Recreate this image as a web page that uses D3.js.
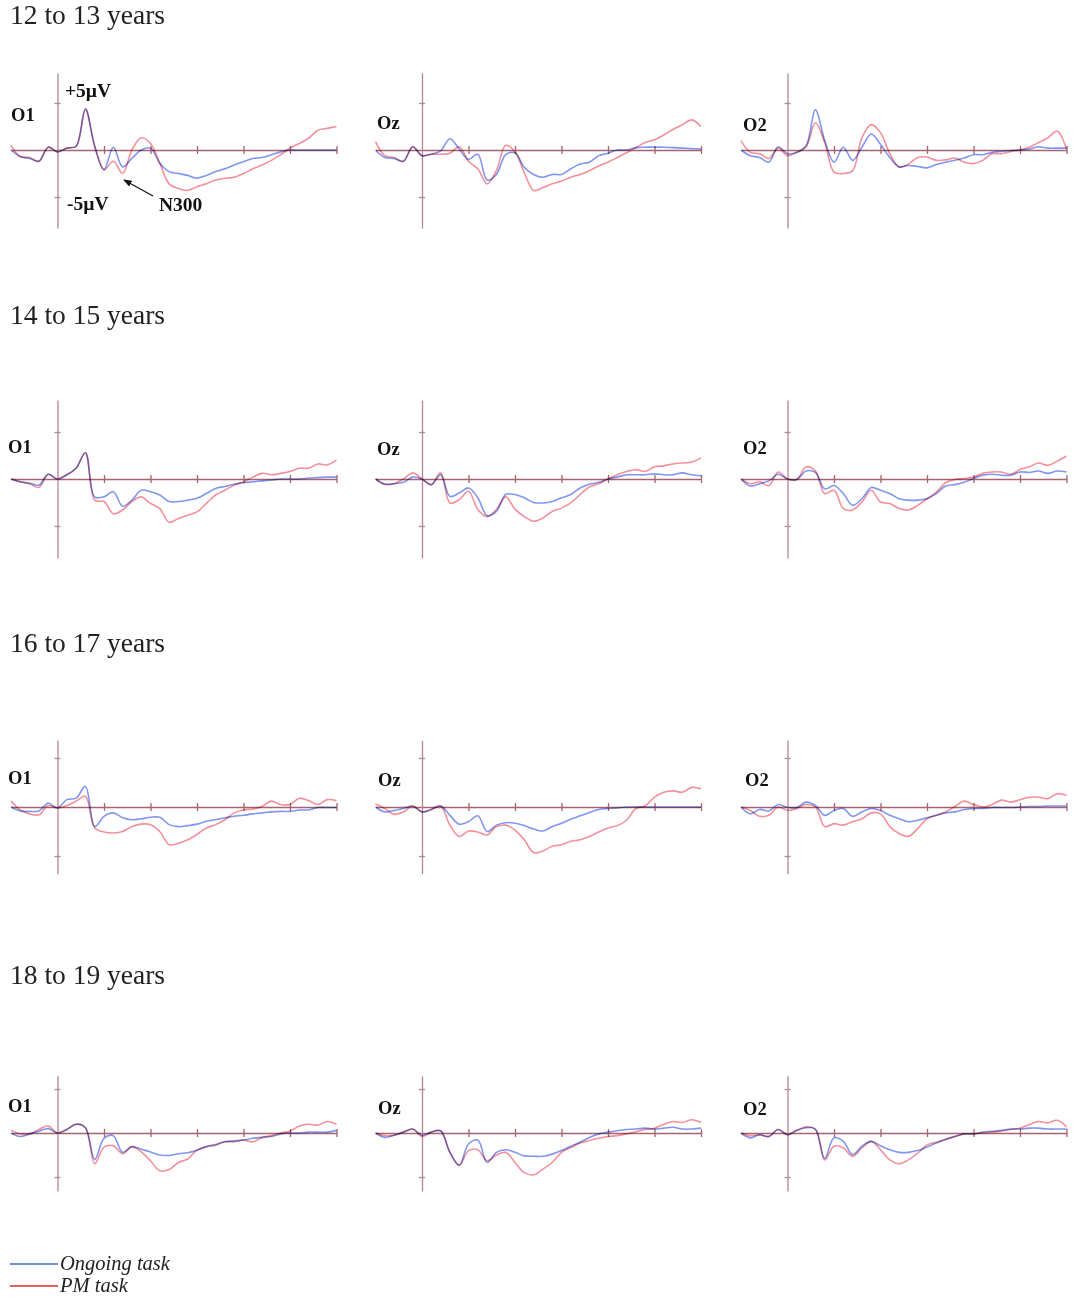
<!DOCTYPE html>
<html>
<head>
<meta charset="utf-8">
<script src="https://cdn.jsdelivr.net/npm/d3@7"></script>
<style>
  html, body { margin: 0; padding: 0; background: #fff; }
  svg { display: block; }
</style>
</head>
<body>
<svg id="chart" width="1081" height="1300"></svg>
<script>
// ---------------- DATA ----------------
const ageGroups = ["12 to 13 years", "14 to 15 years", "16 to 17 years", "18 to 19 years"];
const electrodes = ["O1", "Oz", "O2"];
const seriesNames = ["Ongoing task", "PM task"];
const timeTicks = [100, 200, 300, 400, 500, 600];
const ampTicks = [-5, 5];
// sample times (ms)
const times = [-100,-80,-60,-40,-20,0,20,40,60,80,100,120,140,160,180,200,220,240,260,280,
               300,320,340,360,380,400,420,440,460,480,500,520,540,560,580,600];

// amplitudes (µV) – 12 to 13 years
const ongoing_12_O1 = [0,-0.7,-0.9,-1.2,0.3,-0.2,0.2,0.4,4.4,0.4,-2.1,0.3,-1.8,-0.9,0.0,0.2,-1.4,-2.3,-2.5,-2.7,-3.0,-2.7,-2.3,-2.0,-1.6,-1.25,-0.9,-0.8,-0.5,-0.2,0,0,0,0,0,0];
const pm_12_O1      = [0.5,-0.7,-0.8,-1.2,0.3,-0.2,0.2,0.4,4.3,0.4,-2.1,-1.2,-2.5,0,1.3,0.7,-1.4,-3.6,-4.1,-4.3,-3.9,-3.6,-3.2,-3.0,-2.9,-2.5,-2.0,-1.6,-1.1,-0.5,0.2,0.7,1.25,2.1,2.3,2.5];
const ongoing_12_Oz = [0,-0.8,-0.9,-1.2,0.35,-0.6,-0.45,-0.1,1.2,0.1,-1.0,-0.45,-3.2,-2.6,-0.5,-0.3,-1.85,-2.6,-2.9,-2.6,-2.6,-2.0,-1.5,-1.3,-0.6,-0.35,0,0,0.25,0.3,0.3,0.3,0.25,0.2,0.15,0.1];
const pm_12_Oz      = [0.9,-0.6,-0.8,-1.2,0.35,-0.6,-0.45,-0.45,-0.35,0.35,-1.2,-2.0,-3.6,-2.2,0.5,-0.2,-2.4,-4.3,-4.0,-3.6,-3.3,-2.9,-2.6,-2.2,-1.7,-1.3,-0.8,-0.3,0.25,0.8,1.1,1.6,2.2,2.7,3.2,2.5];
const ongoing_12_O2 = [0,-0.6,-0.8,-1.3,0.35,-0.4,-0.25,0.45,4.3,1.0,-1.3,0.3,-1.1,0.3,1.7,0.6,-0.8,-1.8,-1.65,-1.75,-1.9,-1.55,-1.3,-1.1,-0.85,-0.5,-0.5,-0.25,-0.15,-0.05,0,0.1,0.35,0.2,0.2,0.2];
const pm_12_O2      = [1.0,-0.25,-0.4,-0.9,0.2,-0.6,-0.25,0.35,2.9,0.8,-2.35,-2.5,-2.2,1.3,2.7,1.85,-0.4,-1.8,-1.5,-0.8,-0.75,-1.1,-1.05,-0.85,-1.3,-1.45,-1.1,-0.4,-0.4,-0.15,0,0.3,0.8,1.3,2.0,0.1];

// 14 to 15 years
const ongoing_14_O1 = [0,-0.3,-0.45,-0.65,0.5,0,0.45,1.15,2.8,-1.9,-1.9,-1.35,-2.9,-2.25,-1.2,-1.35,-1.7,-2.4,-2.4,-2.25,-2.05,-1.55,-1.0,-0.8,-0.55,-0.4,-0.3,-0.2,-0.1,0,0,0,0.1,0.15,0.2,0.2];
const pm_14_O1      = [0,-0.3,-0.5,-0.9,0.5,0,0.45,1.15,2.8,-2.25,-2.4,-3.7,-3.3,-2.4,-1.9,-2.6,-3.15,-4.6,-4.2,-3.85,-3.5,-2.6,-1.7,-1.2,-0.65,-0.3,0.2,0.6,0.45,0.6,0.8,1.15,1.15,1.6,1.5,2.0];
const ongoing_14_Oz = [0,-0.55,-0.5,-0.35,0.2,0,-0.6,0.45,-1.85,-1.5,-0.95,-2.0,-3.9,-3.45,-1.65,-1.65,-2.0,-2.5,-2.55,-2.4,-2.0,-1.65,-0.95,-0.55,-0.35,0,0.2,0.45,0.45,0.45,0.55,0.45,0.45,0.65,0.45,0.35];
const pm_14_Oz      = [0,-0.55,-0.5,0,0.65,0,-0.6,0.65,-2.55,-2.2,-1.3,-3.25,-4.0,-3.25,-1.9,-3.2,-4.0,-4.5,-4.15,-3.45,-3.1,-2.55,-1.65,-0.85,-0.5,0,0.45,0.8,1.0,0.8,1.3,1.4,1.6,1.7,1.8,2.25];
const ongoing_14_O2 = [0,-0.75,-0.5,-0.2,0.5,0,-0.05,0.85,0.7,-1.05,-0.7,-1.55,-2.8,-2.1,-0.9,-1.2,-1.55,-2.1,-2.25,-2.25,-2.1,-1.55,-0.75,-0.6,-0.35,0.05,0.4,0.5,0.4,0.4,0.75,0.7,0.85,0.6,0.85,0.75];
const pm_14_O2      = [0,-0.5,-0.3,-0.7,0.75,0,-0.05,1.3,0.85,-1.55,-1.2,-3.15,-3.3,-2.45,-1.2,-2.45,-2.6,-3.15,-3.3,-2.8,-2.1,-1.4,-0.4,-0.05,0.05,0.2,0.6,0.75,0.75,0.5,1.0,1.3,1.7,1.45,1.9,2.45];

// 16 to 17 years
const ongoing_16_O1 = [0,-0.4,-0.45,-0.4,0.4,-0.1,0.75,0.9,2.1,-2.0,-0.95,-0.6,-1.1,-1.3,-1.2,-1.05,-1.05,-1.8,-2.0,-1.9,-1.75,-1.45,-1.3,-1.1,-0.95,-0.85,-0.7,-0.6,-0.5,-0.45,-0.45,-0.3,-0.3,-0.05,-0.05,-0.05];
const pm_16_O1      = [0.6,-0.3,-0.7,-0.8,0.15,-0.1,0.15,0.6,1.1,-2.15,-2.55,-2.65,-2.5,-2.0,-1.75,-1.8,-2.5,-3.85,-3.7,-3.35,-2.8,-2.15,-1.8,-1.3,-0.6,-0.3,-0.2,0.05,0.6,0.25,0.25,0.9,0.65,0.25,0.75,0.65];
const ongoing_16_Oz = [0,-0.5,-0.35,-0.15,0.1,-0.5,-0.25,0.1,-0.85,-1.75,-1.5,-0.9,-2.5,-1.85,-1.6,-1.65,-1.9,-2.25,-2.45,-2.0,-1.65,-1.25,-0.9,-0.55,-0.25,-0.15,-0.1,0,0,0,0,0,0,0,0,0];
const pm_16_Oz      = [0.3,-0.15,-0.75,-0.5,0.1,-0.5,-0.25,0.1,-1.85,-3.0,-2.45,-2.55,-2.85,-2.0,-1.85,-2.35,-3.35,-4.65,-4.5,-4.0,-3.85,-3.5,-3.35,-3.0,-2.55,-2.15,-1.9,-1.35,-0.15,0.1,1.0,1.5,1.65,1.5,2.0,1.85];
const ongoing_16_O2 = [0,-0.7,-0.25,-0.4,0.25,-0.05,-0.05,0.5,0.15,-0.85,-0.35,-0.15,-0.95,-0.5,-0.15,-0.35,-0.85,-1.2,-1.5,-1.35,-1.1,-0.85,-0.6,-0.5,-0.25,-0.15,-0.15,-0.05,-0.05,-0.05,0,0.05,0.05,0.1,0.1,0.1];
const pm_16_O2      = [0,-0.35,-0.95,-0.85,0,-0.35,-0.15,0.25,0,-2.0,-1.7,-1.85,-1.5,-1.2,-0.6,-0.7,-2.0,-2.7,-3.0,-2.2,-1.2,-0.85,-0.5,0.05,0.6,0.25,0,0.25,0.7,0.5,0.75,1.0,1.0,0.85,1.35,1.2];

// 18 to 19 years
const ongoing_18_O1 = [0,-0.4,-0.1,0.2,0.5,0,0.4,1.0,0.6,-3.0,-0.6,-0.3,-2.2,-1.55,-1.85,-2.15,-2.5,-2.55,-2.35,-2.25,-1.95,-1.55,-1.3,-1.0,-0.9,-0.8,-0.6,-0.5,-0.4,-0.1,0,0,0.1,0.1,0.1,0.3];
const pm_18_O1      = [0.3,-0.1,-0.1,0.4,0.8,0,0.4,1.0,0.6,-3.5,-1.6,-1.45,-2.35,-1.55,-2.15,-3.15,-4.3,-4.15,-3.35,-2.95,-1.95,-1.55,-1.4,-1.0,-1.0,-0.8,-1.0,-0.5,-0.3,0,0.2,0.8,1.0,0.9,1.3,1.0];
const ongoing_18_Oz = [0,-0.5,-0.25,0.1,0.45,-0.25,0.1,0.25,-2.2,-3.65,-1.25,-0.8,-3.35,-2.2,-1.9,-2.2,-2.6,-2.65,-2.65,-2.4,-2.0,-1.5,-1.05,-0.5,-0.1,0.1,0.25,0.4,0.45,0.55,0.45,0.55,0.65,0.45,0.45,0.55];
const pm_18_Oz      = [0,-0.3,-0.25,0.1,0.45,-0.4,0.1,0.25,-2.2,-3.65,-2.0,-1.9,-3.15,-2.5,-2.2,-3.35,-4.5,-4.75,-4.1,-3.35,-2.2,-1.65,-1.15,-0.85,-0.6,-0.4,-0.3,-0.1,0.15,0.4,0.55,1.0,1.3,1.2,1.5,1.2];
const ongoing_18_O2 = [0,-0.55,-0.2,-0.4,0.4,-0.2,0.3,0.6,0.45,-2.9,-0.55,-0.95,-2.45,-1.5,-0.95,-1.45,-1.9,-2.2,-2.2,-2.0,-1.6,-1.15,-0.75,-0.4,-0.1,-0.1,0.1,0.2,0.3,0.45,0.45,0.55,0.55,0.45,0.45,0.45];
const pm_18_O2      = [0,-0.3,-0.2,-0.4,0.4,-0.2,0.3,0.7,0.4,-3.05,-1.5,-1.7,-2.65,-1.7,-0.95,-1.9,-3.05,-3.5,-3.05,-2.3,-1.35,-1.05,-0.7,-0.4,-0.1,-0.1,0,0.1,0.2,0.4,0.55,0.95,1.3,1.15,1.45,0.7];

const ongoingRows = [
  [ongoing_12_O1, ongoing_12_Oz, ongoing_12_O2],
  [ongoing_14_O1, ongoing_14_Oz, ongoing_14_O2],
  [ongoing_16_O1, ongoing_16_Oz, ongoing_16_O2],
  [ongoing_18_O1, ongoing_18_Oz, ongoing_18_O2]
];
const pmRows = [
  [pm_12_O1, pm_12_Oz, pm_12_O2],
  [pm_14_O1, pm_14_Oz, pm_14_O2],
  [pm_16_O1, pm_16_Oz, pm_16_O2],
  [pm_18_O1, pm_18_Oz, pm_18_O2]
];

// ---------------- LAYOUT ----------------
const colZeroX = [57.5, 422, 787.5];
const pxPer100 = 46.5;
const rowZeroY = [150, 479, 807, 1133];
const rowPxPerUV = [9.4, 9.4, 9.8, 8.8];
const rowAxisRange = [[8.2, -8.3], [8.4, -8.4], [6.8, -6.8], [6.5, -6.6]];
const titleBaseY = [24, 324, 652, 984];
const labelPos = [
  [[11, 121], [377, 129], [743, 131]],
  [[8, 453], [377, 455], [743, 454]],
  [[8, 784], [378, 786], [745, 786]],
  [[8, 1112], [378, 1114], [743, 1115]]
];

const colOngoing = "#8196f0";
const colPM = "#f4909a";
const axisH = "#a5646f";
const axisV = "#b38690";
const serif = "'Liberation Serif', 'Times New Roman', serif";

const svg = d3.select("#chart");

ageGroups.forEach((title, r) => {
  svg.append("text")
    .attr("x", 10).attr("y", titleBaseY[r])
    .attr("font-family", serif).attr("font-size", 27.5).attr("fill", "#222")
    .text(title);

  electrodes.forEach((el, c) => {
    const zx = colZeroX[c], zy = rowZeroY[r], k = rowPxPerUV[r];
    const [vTop, vBot] = rowAxisRange[r];
    const x = d3.scaleLinear().domain([-100, 600]).range([zx - pxPer100, zx + 6 * pxPer100]);
    const y = d3.scaleLinear().domain([vTop, vBot]).range([zy - vTop * k, zy - vBot * k]);

    const g = svg.append("g");

    // horizontal (time) axis
    const gx1 = g.append("g").attr("transform", `translate(0,${y(0)})`)
      .call(d3.axisBottom(x).tickValues(timeTicks).tickSizeInner(4).tickSizeOuter(0).tickFormat(""));
    const gx2 = g.append("g").attr("transform", `translate(0,${y(0)})`)
      .call(d3.axisTop(x).tickValues(timeTicks).tickSizeInner(4).tickSizeOuter(0).tickFormat(""));
    gx2.select(".domain").remove();
    [gx1, gx2].forEach(a => {
      a.selectAll("path,line").attr("stroke", axisH).attr("stroke-width", 1.3);
    });

    // vertical (amplitude) axis
    const gy1 = g.append("g").attr("transform", `translate(${x(0)},0)`)
      .call(d3.axisLeft(y).tickValues(ampTicks).tickSizeInner(3).tickSizeOuter(0).tickFormat(""));
    const gy2 = g.append("g").attr("transform", `translate(${x(0)},0)`)
      .call(d3.axisRight(y).tickValues(ampTicks).tickSizeInner(3).tickSizeOuter(0).tickFormat(""));
    gy2.select(".domain").remove();
    [gy1, gy2].forEach(a => {
      a.selectAll("path,line").attr("stroke", axisV).attr("stroke-width", 1.3);
    });

    const line = d3.line()
      .x((d, i) => x(times[i]))
      .y(d => y(d))
      .curve(d3.curveCatmullRom.alpha(0.5));

    g.append("path").datum(ongoingRows[r][c])
      .attr("d", line).attr("fill", "none")
      .attr("stroke", colOngoing).attr("stroke-width", 1.6)
      .style("mix-blend-mode", "multiply");
    g.append("path").datum(pmRows[r][c])
      .attr("d", line).attr("fill", "none")
      .attr("stroke", colPM).attr("stroke-width", 1.6)
      .style("mix-blend-mode", "multiply");

    svg.append("text")
      .attr("x", labelPos[r][c][0]).attr("y", labelPos[r][c][1])
      .attr("font-family", serif).attr("font-weight", "bold").attr("font-size", 18.5)
      .attr("fill", "#111").text(el);

    if (r === 0 && c === 0) {
      svg.append("text").attr("x", 65).attr("y", 97)
        .attr("font-family", serif).attr("font-weight", "bold").attr("font-size", 19.5)
        .attr("fill", "#111").text("+5µV");
      svg.append("text").attr("x", 67).attr("y", 210)
        .attr("font-family", serif).attr("font-weight", "bold").attr("font-size", 19.5)
        .attr("fill", "#111").text("-5µV");
      svg.append("text").attr("x", 159).attr("y", 211)
        .attr("font-family", serif).attr("font-weight", "bold").attr("font-size", 19.5)
        .attr("fill", "#111").text("N300");
      // arrow
      svg.append("defs").append("marker")
        .attr("id", "arrowhead").attr("viewBox", "0 0 10 10")
        .attr("refX", 9).attr("refY", 5).attr("markerWidth", 7).attr("markerHeight", 7)
        .attr("orient", "auto")
        .append("path").attr("d", "M0,1 L10,5 L0,9 z").attr("fill", "#111");
      svg.append("line")
        .attr("x1", 153).attr("y1", 196).attr("x2", 124).attr("y2", 180)
        .attr("stroke", "#111").attr("stroke-width", 1.2)
        .attr("marker-end", "url(#arrowhead)");
    }
  });
});

// legend
const legendColors = ["#3f6fcf", "#e02a2a"];
const legendY = [1264, 1286];
seriesNames.forEach((name, i) => {
  svg.append("line")
    .attr("x1", 10).attr("x2", 58).attr("y1", legendY[i]).attr("y2", legendY[i])
    .attr("stroke", legendColors[i]).attr("stroke-width", 1.6);
  svg.append("text")
    .attr("x", 60).attr("y", legendY[i] + 6)
    .attr("font-family", serif).attr("font-style", "italic").attr("font-size", 20.5)
    .attr("fill", "#222").text(name);
});
</script>
</body>
</html>
